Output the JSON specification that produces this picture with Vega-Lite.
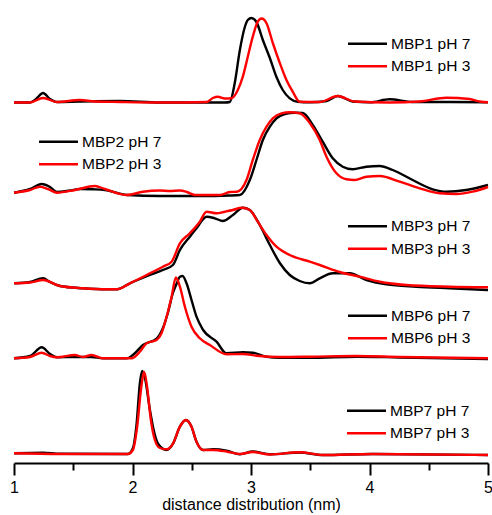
{
  "$schema": "https://vega.github.io/schema/vega-lite/v6.json",
  "width": 474,
  "height": 463,
  "autosize": {"type": "none"},
  "padding": {"left": 14, "top": 0, "right": 4, "bottom": 52},
  "background": "white",
  "config": {
    "view": {"stroke": null},
    "font": "Liberation Sans",
    "legend": {
      "title": null,
      "direction": "vertical",
      "padding": 0,
      "labelFont": "Liberation Sans",
      "labelFontSize": 15.5,
      "labelColor": "#000000",
      "labelOffset": 4,
      "rowPadding": 5.5,
      "symbolSize": 100,
      "symbolStrokeWidth": 2.5,
      "symbolType": "M-6.25,0H1.55",
      "labelLimit": 300
    }
  },
  "data": {
    "values": [
      {"p":"MBP1","s":"MBP1 pH 7","x":1.0,"y":360.5},{"p":"MBP1","s":"MBP1 pH 7","x":1.135,"y":360.5},{"p":"MBP1","s":"MBP1 pH 7","x":1.186,"y":364},{"p":"MBP1","s":"MBP1 pH 7","x":1.245,"y":370},{"p":"MBP1","s":"MBP1 pH 7","x":1.304,"y":364},{"p":"MBP1","s":"MBP1 pH 7","x":1.363,"y":361},{"p":"MBP1","s":"MBP1 pH 7","x":1.557,"y":361.5},{"p":"MBP1","s":"MBP1 pH 7","x":1.894,"y":362},{"p":"MBP1","s":"MBP1 pH 7","x":2.231,"y":360.5},{"p":"MBP1","s":"MBP1 pH 7","x":2.568,"y":360.5},{"p":"MBP1","s":"MBP1 pH 7","x":2.779,"y":360.5},{"p":"MBP1","s":"MBP1 pH 7","x":2.821,"y":361},{"p":"MBP1","s":"MBP1 pH 7","x":2.863,"y":380},{"p":"MBP1","s":"MBP1 pH 7","x":2.906,"y":413},{"p":"MBP1","s":"MBP1 pH 7","x":2.948,"y":436},{"p":"MBP1","s":"MBP1 pH 7","x":2.973,"y":443},{"p":"MBP1","s":"MBP1 pH 7","x":3.004,"y":445},{"p":"MBP1","s":"MBP1 pH 7","x":3.046,"y":441},{"p":"MBP1","s":"MBP1 pH 7","x":3.1,"y":423},{"p":"MBP1","s":"MBP1 pH 7","x":3.159,"y":405},{"p":"MBP1","s":"MBP1 pH 7","x":3.215,"y":386},{"p":"MBP1","s":"MBP1 pH 7","x":3.268,"y":373},{"p":"MBP1","s":"MBP1 pH 7","x":3.327,"y":364.7},{"p":"MBP1","s":"MBP1 pH 7","x":3.395,"y":361.3},{"p":"MBP1","s":"MBP1 pH 7","x":3.496,"y":360.7},{"p":"MBP1","s":"MBP1 pH 7","x":3.639,"y":362},{"p":"MBP1","s":"MBP1 pH 7","x":3.732,"y":367},{"p":"MBP1","s":"MBP1 pH 7","x":3.858,"y":361.5},{"p":"MBP1","s":"MBP1 pH 7","x":4.002,"y":360.7},{"p":"MBP1","s":"MBP1 pH 7","x":4.17,"y":363.7},{"p":"MBP1","s":"MBP1 pH 7","x":4.364,"y":361},{"p":"MBP1","s":"MBP1 pH 7","x":4.676,"y":361},{"p":"MBP1","s":"MBP1 pH 7","x":5.0,"y":360.7},
      {"p":"MBP1","s":"MBP1 pH 3","x":1.0,"y":360.5},{"p":"MBP1","s":"MBP1 pH 3","x":1.135,"y":360.5},{"p":"MBP1","s":"MBP1 pH 3","x":1.245,"y":365},{"p":"MBP1","s":"MBP1 pH 3","x":1.363,"y":361},{"p":"MBP1","s":"MBP1 pH 3","x":1.557,"y":363},{"p":"MBP1","s":"MBP1 pH 3","x":1.683,"y":361.5},{"p":"MBP1","s":"MBP1 pH 3","x":1.894,"y":361},{"p":"MBP1","s":"MBP1 pH 3","x":2.231,"y":360.5},{"p":"MBP1","s":"MBP1 pH 3","x":2.627,"y":361},{"p":"MBP1","s":"MBP1 pH 3","x":2.678,"y":365},{"p":"MBP1","s":"MBP1 pH 3","x":2.72,"y":366.3},{"p":"MBP1","s":"MBP1 pH 3","x":2.779,"y":364.5},{"p":"MBP1","s":"MBP1 pH 3","x":2.835,"y":364.7},{"p":"MBP1","s":"MBP1 pH 3","x":2.889,"y":373},{"p":"MBP1","s":"MBP1 pH 3","x":2.931,"y":386.3},{"p":"MBP1","s":"MBP1 pH 3","x":2.973,"y":406.3},{"p":"MBP1","s":"MBP1 pH 3","x":3.015,"y":426.3},{"p":"MBP1","s":"MBP1 pH 3","x":3.057,"y":441.3},{"p":"MBP1","s":"MBP1 pH 3","x":3.089,"y":444.5},{"p":"MBP1","s":"MBP1 pH 3","x":3.131,"y":439.7},{"p":"MBP1","s":"MBP1 pH 3","x":3.184,"y":420},{"p":"MBP1","s":"MBP1 pH 3","x":3.243,"y":400},{"p":"MBP1","s":"MBP1 pH 3","x":3.299,"y":383},{"p":"MBP1","s":"MBP1 pH 3","x":3.352,"y":371.3},{"p":"MBP1","s":"MBP1 pH 3","x":3.411,"y":361.3},{"p":"MBP1","s":"MBP1 pH 3","x":3.58,"y":361},{"p":"MBP1","s":"MBP1 pH 3","x":3.732,"y":367},{"p":"MBP1","s":"MBP1 pH 3","x":3.875,"y":361.5},{"p":"MBP1","s":"MBP1 pH 3","x":4.17,"y":360.5},{"p":"MBP1","s":"MBP1 pH 3","x":4.423,"y":361.5},{"p":"MBP1","s":"MBP1 pH 3","x":4.648,"y":365.3},{"p":"MBP1","s":"MBP1 pH 3","x":4.845,"y":364},{"p":"MBP1","s":"MBP1 pH 3","x":4.929,"y":361.5},{"p":"MBP1","s":"MBP1 pH 3","x":5.0,"y":360.7},
      {"p":"MBP2","s":"MBP2 pH 7","x":1.0,"y":270.3},{"p":"MBP2","s":"MBP2 pH 7","x":1.135,"y":274},{"p":"MBP2","s":"MBP2 pH 7","x":1.234,"y":279},{"p":"MBP2","s":"MBP2 pH 7","x":1.304,"y":276},{"p":"MBP2","s":"MBP2 pH 7","x":1.363,"y":271},{"p":"MBP2","s":"MBP2 pH 7","x":1.472,"y":272.5},{"p":"MBP2","s":"MBP2 pH 7","x":1.557,"y":274},{"p":"MBP2","s":"MBP2 pH 7","x":1.666,"y":273.7},{"p":"MBP2","s":"MBP2 pH 7","x":1.767,"y":273},{"p":"MBP2","s":"MBP2 pH 7","x":1.953,"y":268},{"p":"MBP2","s":"MBP2 pH 7","x":2.231,"y":267},{"p":"MBP2","s":"MBP2 pH 7","x":2.568,"y":267},{"p":"MBP2","s":"MBP2 pH 7","x":2.821,"y":267.5},{"p":"MBP2","s":"MBP2 pH 7","x":2.906,"y":268},{"p":"MBP2","s":"MBP2 pH 7","x":2.99,"y":283},{"p":"MBP2","s":"MBP2 pH 7","x":3.046,"y":303},{"p":"MBP2","s":"MBP2 pH 7","x":3.1,"y":323},{"p":"MBP2","s":"MBP2 pH 7","x":3.159,"y":336.3},{"p":"MBP2","s":"MBP2 pH 7","x":3.215,"y":344.7},{"p":"MBP2","s":"MBP2 pH 7","x":3.285,"y":349},{"p":"MBP2","s":"MBP2 pH 7","x":3.369,"y":350.3},{"p":"MBP2","s":"MBP2 pH 7","x":3.437,"y":350},{"p":"MBP2","s":"MBP2 pH 7","x":3.521,"y":338},{"p":"MBP2","s":"MBP2 pH 7","x":3.605,"y":321.3},{"p":"MBP2","s":"MBP2 pH 7","x":3.69,"y":304.7},{"p":"MBP2","s":"MBP2 pH 7","x":3.774,"y":296.3},{"p":"MBP2","s":"MBP2 pH 7","x":3.858,"y":293.7},{"p":"MBP2","s":"MBP2 pH 7","x":3.974,"y":296.3},{"p":"MBP2","s":"MBP2 pH 7","x":4.086,"y":297},{"p":"MBP2","s":"MBP2 pH 7","x":4.196,"y":293},{"p":"MBP2","s":"MBP2 pH 7","x":4.364,"y":283},{"p":"MBP2","s":"MBP2 pH 7","x":4.533,"y":273.7},{"p":"MBP2","s":"MBP2 pH 7","x":4.648,"y":271.3},{"p":"MBP2","s":"MBP2 pH 7","x":4.817,"y":273},{"p":"MBP2","s":"MBP2 pH 7","x":5.0,"y":278},
      {"p":"MBP2","s":"MBP2 pH 3","x":1.0,"y":270.3},{"p":"MBP2","s":"MBP2 pH 3","x":1.135,"y":273},{"p":"MBP2","s":"MBP2 pH 3","x":1.219,"y":276.3},{"p":"MBP2","s":"MBP2 pH 3","x":1.287,"y":274},{"p":"MBP2","s":"MBP2 pH 3","x":1.363,"y":270.3},{"p":"MBP2","s":"MBP2 pH 3","x":1.514,"y":273},{"p":"MBP2","s":"MBP2 pH 3","x":1.683,"y":277},{"p":"MBP2","s":"MBP2 pH 3","x":1.767,"y":274},{"p":"MBP2","s":"MBP2 pH 3","x":1.953,"y":268},{"p":"MBP2","s":"MBP2 pH 3","x":2.088,"y":271.3},{"p":"MBP2","s":"MBP2 pH 3","x":2.231,"y":272.5},{"p":"MBP2","s":"MBP2 pH 3","x":2.315,"y":272},{"p":"MBP2","s":"MBP2 pH 3","x":2.4,"y":272.5},{"p":"MBP2","s":"MBP2 pH 3","x":2.459,"y":271},{"p":"MBP2","s":"MBP2 pH 3","x":2.526,"y":268},{"p":"MBP2","s":"MBP2 pH 3","x":2.737,"y":268},{"p":"MBP2","s":"MBP2 pH 3","x":2.821,"y":271},{"p":"MBP2","s":"MBP2 pH 3","x":2.88,"y":271.3},{"p":"MBP2","s":"MBP2 pH 3","x":2.962,"y":283},{"p":"MBP2","s":"MBP2 pH 3","x":3.015,"y":303},{"p":"MBP2","s":"MBP2 pH 3","x":3.074,"y":323},{"p":"MBP2","s":"MBP2 pH 3","x":3.131,"y":336.3},{"p":"MBP2","s":"MBP2 pH 3","x":3.184,"y":344.7},{"p":"MBP2","s":"MBP2 pH 3","x":3.257,"y":349.7},{"p":"MBP2","s":"MBP2 pH 3","x":3.327,"y":350.7},{"p":"MBP2","s":"MBP2 pH 3","x":3.411,"y":349.7},{"p":"MBP2","s":"MBP2 pH 3","x":3.496,"y":340},{"p":"MBP2","s":"MBP2 pH 3","x":3.58,"y":323},{"p":"MBP2","s":"MBP2 pH 3","x":3.637,"y":306.3},{"p":"MBP2","s":"MBP2 pH 3","x":3.721,"y":289.7},{"p":"MBP2","s":"MBP2 pH 3","x":3.805,"y":283.7},{"p":"MBP2","s":"MBP2 pH 3","x":3.875,"y":283},{"p":"MBP2","s":"MBP2 pH 3","x":3.974,"y":286.3},{"p":"MBP2","s":"MBP2 pH 3","x":4.086,"y":287},{"p":"MBP2","s":"MBP2 pH 3","x":4.255,"y":281.3},{"p":"MBP2","s":"MBP2 pH 3","x":4.423,"y":274.7},{"p":"MBP2","s":"MBP2 pH 3","x":4.592,"y":269.7},{"p":"MBP2","s":"MBP2 pH 3","x":4.733,"y":269},{"p":"MBP2","s":"MBP2 pH 3","x":4.87,"y":271.3},{"p":"MBP2","s":"MBP2 pH 3","x":5.0,"y":276},
      {"p":"MBP3","s":"MBP3 pH 7","x":1.0,"y":179.7},{"p":"MBP3","s":"MBP3 pH 7","x":1.135,"y":181},{"p":"MBP3","s":"MBP3 pH 7","x":1.245,"y":184.7},{"p":"MBP3","s":"MBP3 pH 7","x":1.304,"y":181},{"p":"MBP3","s":"MBP3 pH 7","x":1.388,"y":177},{"p":"MBP3","s":"MBP3 pH 7","x":1.582,"y":174.7},{"p":"MBP3","s":"MBP3 pH 7","x":1.784,"y":173.7},{"p":"MBP3","s":"MBP3 pH 7","x":1.868,"y":173.7},{"p":"MBP3","s":"MBP3 pH 7","x":1.978,"y":179.7},{"p":"MBP3","s":"MBP3 pH 7","x":2.147,"y":188},{"p":"MBP3","s":"MBP3 pH 7","x":2.256,"y":193},{"p":"MBP3","s":"MBP3 pH 7","x":2.341,"y":198},{"p":"MBP3","s":"MBP3 pH 7","x":2.4,"y":213},{"p":"MBP3","s":"MBP3 pH 7","x":2.484,"y":226.3},{"p":"MBP3","s":"MBP3 pH 7","x":2.54,"y":234.7},{"p":"MBP3","s":"MBP3 pH 7","x":2.625,"y":246.3},{"p":"MBP3","s":"MBP3 pH 7","x":2.695,"y":244.7},{"p":"MBP3","s":"MBP3 pH 7","x":2.762,"y":242},{"p":"MBP3","s":"MBP3 pH 7","x":2.847,"y":248},{"p":"MBP3","s":"MBP3 pH 7","x":2.931,"y":255.3},{"p":"MBP3","s":"MBP3 pH 7","x":2.99,"y":253},{"p":"MBP3","s":"MBP3 pH 7","x":3.074,"y":238},{"p":"MBP3","s":"MBP3 pH 7","x":3.159,"y":218},{"p":"MBP3","s":"MBP3 pH 7","x":3.243,"y":200},{"p":"MBP3","s":"MBP3 pH 7","x":3.327,"y":188},{"p":"MBP3","s":"MBP3 pH 7","x":3.411,"y":182},{"p":"MBP3","s":"MBP3 pH 7","x":3.496,"y":179.7},{"p":"MBP3","s":"MBP3 pH 7","x":3.58,"y":184.7},{"p":"MBP3","s":"MBP3 pH 7","x":3.69,"y":189.7},{"p":"MBP3","s":"MBP3 pH 7","x":3.833,"y":189.7},{"p":"MBP3","s":"MBP3 pH 7","x":3.974,"y":183},{"p":"MBP3","s":"MBP3 pH 7","x":4.143,"y":178.7},{"p":"MBP3","s":"MBP3 pH 7","x":4.395,"y":176.3},{"p":"MBP3","s":"MBP3 pH 7","x":4.676,"y":174.7},{"p":"MBP3","s":"MBP3 pH 7","x":5.0,"y":173},
      {"p":"MBP3","s":"MBP3 pH 3","x":1.0,"y":179.7},{"p":"MBP3","s":"MBP3 pH 3","x":1.135,"y":180.5},{"p":"MBP3","s":"MBP3 pH 3","x":1.245,"y":183},{"p":"MBP3","s":"MBP3 pH 3","x":1.388,"y":177},{"p":"MBP3","s":"MBP3 pH 3","x":1.582,"y":174.7},{"p":"MBP3","s":"MBP3 pH 3","x":1.784,"y":173.7},{"p":"MBP3","s":"MBP3 pH 3","x":1.868,"y":173.7},{"p":"MBP3","s":"MBP3 pH 3","x":1.978,"y":179.7},{"p":"MBP3","s":"MBP3 pH 3","x":2.147,"y":189.7},{"p":"MBP3","s":"MBP3 pH 3","x":2.256,"y":196.3},{"p":"MBP3","s":"MBP3 pH 3","x":2.33,"y":201.3},{"p":"MBP3","s":"MBP3 pH 3","x":2.4,"y":219.7},{"p":"MBP3","s":"MBP3 pH 3","x":2.484,"y":229.7},{"p":"MBP3","s":"MBP3 pH 3","x":2.568,"y":241.3},{"p":"MBP3","s":"MBP3 pH 3","x":2.625,"y":251.3},{"p":"MBP3","s":"MBP3 pH 3","x":2.709,"y":249.7},{"p":"MBP3","s":"MBP3 pH 3","x":2.779,"y":251.3},{"p":"MBP3","s":"MBP3 pH 3","x":2.847,"y":253},{"p":"MBP3","s":"MBP3 pH 3","x":2.92,"y":255.3},{"p":"MBP3","s":"MBP3 pH 3","x":2.99,"y":253},{"p":"MBP3","s":"MBP3 pH 3","x":3.057,"y":241.3},{"p":"MBP3","s":"MBP3 pH 3","x":3.131,"y":228},{"p":"MBP3","s":"MBP3 pH 3","x":3.215,"y":216.3},{"p":"MBP3","s":"MBP3 pH 3","x":3.327,"y":208},{"p":"MBP3","s":"MBP3 pH 3","x":3.496,"y":201.3},{"p":"MBP3","s":"MBP3 pH 3","x":3.58,"y":198},{"p":"MBP3","s":"MBP3 pH 3","x":3.749,"y":191},{"p":"MBP3","s":"MBP3 pH 3","x":3.917,"y":186.3},{"p":"MBP3","s":"MBP3 pH 3","x":4.086,"y":181.3},{"p":"MBP3","s":"MBP3 pH 3","x":4.311,"y":178},{"p":"MBP3","s":"MBP3 pH 3","x":4.676,"y":176.3},{"p":"MBP3","s":"MBP3 pH 3","x":5.0,"y":175.7},
      {"p":"MBP6","s":"MBP6 pH 7","x":1.0,"y":104.7},{"p":"MBP6","s":"MBP6 pH 7","x":1.135,"y":107},{"p":"MBP6","s":"MBP6 pH 7","x":1.234,"y":115.7},{"p":"MBP6","s":"MBP6 pH 7","x":1.304,"y":109},{"p":"MBP6","s":"MBP6 pH 7","x":1.363,"y":105.7},{"p":"MBP6","s":"MBP6 pH 7","x":1.514,"y":106},{"p":"MBP6","s":"MBP6 pH 7","x":1.655,"y":106},{"p":"MBP6","s":"MBP6 pH 7","x":1.75,"y":104.7},{"p":"MBP6","s":"MBP6 pH 7","x":1.953,"y":104.7},{"p":"MBP6","s":"MBP6 pH 7","x":2.003,"y":108},{"p":"MBP6","s":"MBP6 pH 7","x":2.088,"y":118},{"p":"MBP6","s":"MBP6 pH 7","x":2.206,"y":124.7},{"p":"MBP6","s":"MBP6 pH 7","x":2.256,"y":134.7},{"p":"MBP6","s":"MBP6 pH 7","x":2.298,"y":150},{"p":"MBP6","s":"MBP6 pH 7","x":2.341,"y":170},{"p":"MBP6","s":"MBP6 pH 7","x":2.374,"y":179.7},{"p":"MBP6","s":"MBP6 pH 7","x":2.4,"y":186.3},{"p":"MBP6","s":"MBP6 pH 7","x":2.423,"y":187},{"p":"MBP6","s":"MBP6 pH 7","x":2.456,"y":179.7},{"p":"MBP6","s":"MBP6 pH 7","x":2.498,"y":163},{"p":"MBP6","s":"MBP6 pH 7","x":2.54,"y":146.3},{"p":"MBP6","s":"MBP6 pH 7","x":2.596,"y":133},{"p":"MBP6","s":"MBP6 pH 7","x":2.709,"y":121.3},{"p":"MBP6","s":"MBP6 pH 7","x":2.793,"y":109.7},{"p":"MBP6","s":"MBP6 pH 7","x":2.931,"y":110.7},{"p":"MBP6","s":"MBP6 pH 7","x":3.015,"y":110.3},{"p":"MBP6","s":"MBP6 pH 7","x":3.131,"y":106.3},{"p":"MBP6","s":"MBP6 pH 7","x":3.243,"y":105.3},{"p":"MBP6","s":"MBP6 pH 7","x":3.496,"y":105.3},{"p":"MBP6","s":"MBP6 pH 7","x":3.89,"y":106.3},{"p":"MBP6","s":"MBP6 pH 7","x":4.255,"y":105.5},{"p":"MBP6","s":"MBP6 pH 7","x":5.0,"y":104},
      {"p":"MBP6","s":"MBP6 pH 3","x":1.0,"y":104.7},{"p":"MBP6","s":"MBP6 pH 3","x":1.135,"y":106},{"p":"MBP6","s":"MBP6 pH 3","x":1.234,"y":110.3},{"p":"MBP6","s":"MBP6 pH 3","x":1.304,"y":107},{"p":"MBP6","s":"MBP6 pH 3","x":1.363,"y":105.7},{"p":"MBP6","s":"MBP6 pH 3","x":1.514,"y":108},{"p":"MBP6","s":"MBP6 pH 3","x":1.582,"y":106},{"p":"MBP6","s":"MBP6 pH 3","x":1.655,"y":108},{"p":"MBP6","s":"MBP6 pH 3","x":1.75,"y":104.7},{"p":"MBP6","s":"MBP6 pH 3","x":1.992,"y":104.7},{"p":"MBP6","s":"MBP6 pH 3","x":2.062,"y":111.3},{"p":"MBP6","s":"MBP6 pH 3","x":2.119,"y":119.7},{"p":"MBP6","s":"MBP6 pH 3","x":2.203,"y":123},{"p":"MBP6","s":"MBP6 pH 3","x":2.245,"y":129.7},{"p":"MBP6","s":"MBP6 pH 3","x":2.288,"y":146.3},{"p":"MBP6","s":"MBP6 pH 3","x":2.33,"y":166.3},{"p":"MBP6","s":"MBP6 pH 3","x":2.366,"y":185.5},{"p":"MBP6","s":"MBP6 pH 3","x":2.4,"y":176.3},{"p":"MBP6","s":"MBP6 pH 3","x":2.442,"y":156.3},{"p":"MBP6","s":"MBP6 pH 3","x":2.498,"y":136.3},{"p":"MBP6","s":"MBP6 pH 3","x":2.568,"y":124.7},{"p":"MBP6","s":"MBP6 pH 3","x":2.653,"y":118},{"p":"MBP6","s":"MBP6 pH 3","x":2.793,"y":108.7},{"p":"MBP6","s":"MBP6 pH 3","x":2.931,"y":109},{"p":"MBP6","s":"MBP6 pH 3","x":3.046,"y":107.3},{"p":"MBP6","s":"MBP6 pH 3","x":3.243,"y":106},{"p":"MBP6","s":"MBP6 pH 3","x":3.496,"y":106.3},{"p":"MBP6","s":"MBP6 pH 3","x":3.89,"y":107},{"p":"MBP6","s":"MBP6 pH 3","x":4.255,"y":106},{"p":"MBP6","s":"MBP6 pH 3","x":5.0,"y":104.7},
      {"p":"MBP7","s":"MBP7 pH 7","x":1.0,"y":9.7},{"p":"MBP7","s":"MBP7 pH 7","x":1.245,"y":10.3},{"p":"MBP7","s":"MBP7 pH 7","x":1.388,"y":9.2},{"p":"MBP7","s":"MBP7 pH 7","x":1.961,"y":9},{"p":"MBP7","s":"MBP7 pH 7","x":2.003,"y":14.7},{"p":"MBP7","s":"MBP7 pH 7","x":2.035,"y":39.7},{"p":"MBP7","s":"MBP7 pH 7","x":2.062,"y":79.7},{"p":"MBP7","s":"MBP7 pH 7","x":2.082,"y":92},{"p":"MBP7","s":"MBP7 pH 7","x":2.105,"y":85},{"p":"MBP7","s":"MBP7 pH 7","x":2.147,"y":53},{"p":"MBP7","s":"MBP7 pH 7","x":2.175,"y":35},{"p":"MBP7","s":"MBP7 pH 7","x":2.217,"y":19},{"p":"MBP7","s":"MBP7 pH 7","x":2.288,"y":13},{"p":"MBP7","s":"MBP7 pH 7","x":2.343,"y":19.7},{"p":"MBP7","s":"MBP7 pH 7","x":2.4,"y":36.3},{"p":"MBP7","s":"MBP7 pH 7","x":2.45,"y":43},{"p":"MBP7","s":"MBP7 pH 7","x":2.498,"y":36.3},{"p":"MBP7","s":"MBP7 pH 7","x":2.54,"y":21.3},{"p":"MBP7","s":"MBP7 pH 7","x":2.596,"y":13},{"p":"MBP7","s":"MBP7 pH 7","x":2.68,"y":13.7},{"p":"MBP7","s":"MBP7 pH 7","x":2.793,"y":12.3},{"p":"MBP7","s":"MBP7 pH 7","x":2.906,"y":8.7},{"p":"MBP7","s":"MBP7 pH 7","x":3.015,"y":11.5},{"p":"MBP7","s":"MBP7 pH 7","x":3.159,"y":8.7},{"p":"MBP7","s":"MBP7 pH 7","x":3.411,"y":10.5},{"p":"MBP7","s":"MBP7 pH 7","x":3.605,"y":8},{"p":"MBP7","s":"MBP7 pH 7","x":4.027,"y":9},{"p":"MBP7","s":"MBP7 pH 7","x":5.0,"y":8},
      {"p":"MBP7","s":"MBP7 pH 3","x":1.0,"y":9.7},{"p":"MBP7","s":"MBP7 pH 3","x":1.388,"y":9},{"p":"MBP7","s":"MBP7 pH 3","x":1.961,"y":9},{"p":"MBP7","s":"MBP7 pH 3","x":2.003,"y":13},{"p":"MBP7","s":"MBP7 pH 3","x":2.041,"y":38},{"p":"MBP7","s":"MBP7 pH 3","x":2.071,"y":73},{"p":"MBP7","s":"MBP7 pH 3","x":2.099,"y":91},{"p":"MBP7","s":"MBP7 pH 3","x":2.121,"y":78},{"p":"MBP7","s":"MBP7 pH 3","x":2.155,"y":43},{"p":"MBP7","s":"MBP7 pH 3","x":2.189,"y":23},{"p":"MBP7","s":"MBP7 pH 3","x":2.231,"y":15},{"p":"MBP7","s":"MBP7 pH 3","x":2.288,"y":13.7},{"p":"MBP7","s":"MBP7 pH 3","x":2.343,"y":19.7},{"p":"MBP7","s":"MBP7 pH 3","x":2.4,"y":36.3},{"p":"MBP7","s":"MBP7 pH 3","x":2.45,"y":43},{"p":"MBP7","s":"MBP7 pH 3","x":2.498,"y":36.3},{"p":"MBP7","s":"MBP7 pH 3","x":2.54,"y":21.3},{"p":"MBP7","s":"MBP7 pH 3","x":2.596,"y":13},{"p":"MBP7","s":"MBP7 pH 3","x":2.68,"y":13},{"p":"MBP7","s":"MBP7 pH 3","x":2.793,"y":11.5},{"p":"MBP7","s":"MBP7 pH 3","x":2.906,"y":9},{"p":"MBP7","s":"MBP7 pH 3","x":3.015,"y":11},{"p":"MBP7","s":"MBP7 pH 3","x":3.159,"y":8.5},{"p":"MBP7","s":"MBP7 pH 3","x":3.411,"y":10.7},{"p":"MBP7","s":"MBP7 pH 3","x":3.605,"y":8},{"p":"MBP7","s":"MBP7 pH 3","x":4.027,"y":9},{"p":"MBP7","s":"MBP7 pH 3","x":5.0,"y":8}
    ]
  },
  "encoding": {
    "x": {
      "field": "x", "type": "quantitative",
      "scale": {"domain": [1, 5], "nice": false, "zero": false},
      "axis": {
        "title": "distance distribution (nm)",
        "values": [1, 1.5, 2, 2.5, 3, 3.5, 4, 4.5, 5],
        "labelExpr": "datum.value % 1 === 0 ? format(datum.value, 'd') : ''",
        "labelFlush": false,
        "labelOverlap": false,
        "labelFont": "Liberation Sans",
        "labelFontSize": 16,
        "labelColor": "#000000",
        "labelPadding": 4,
        "titleFont": "Liberation Sans",
        "titleFontSize": 16,
        "titleFontWeight": "normal",
        "titleColor": "#000000",
        "titlePadding": 1,
        "domainColor": "#000000",
        "domainWidth": 2,
        "tickColor": "#000000",
        "tickWidth": 2,
        "tickSize": {"condition": {"test": "datum.value % 1 === 0", "value": 12}, "value": 7},
        "grid": false
      }
    },
    "y": {
      "field": "y", "type": "quantitative",
      "scale": {"domain": [0, 463], "nice": false, "zero": false},
      "axis": null
    }
  },
  "resolve": {"scale": {"color": "independent"}, "legend": {"color": "independent"}},
  "layer": [
    {
      "transform": [{"filter": "datum.p === 'MBP1'"}],
      "mark": {"type": "line", "interpolate": "monotone", "strokeWidth": 2.4},
      "encoding": {"color": {"field": "s", "type": "nominal", "scale": {"domain": ["MBP1 pH 7", "MBP1 pH 3"], "range": ["#000000", "#ff0000"]}, "legend": {"title": null, "orient": "none", "legendX": 357.5, "legendY": 36, "symbolType": "M-6.25,0H1.55"}}}
    },
    {
      "transform": [{"filter": "datum.p === 'MBP2'"}],
      "mark": {"type": "line", "interpolate": "monotone", "strokeWidth": 2.4},
      "encoding": {"color": {"field": "s", "type": "nominal", "scale": {"domain": ["MBP2 pH 7", "MBP2 pH 3"], "range": ["#000000", "#ff0000"]}, "legend": {"title": null, "orient": "none", "legendX": 48.5, "legendY": 134, "symbolType": "M-6.25,0H1.55"}}}
    },
    {
      "transform": [{"filter": "datum.p === 'MBP3'"}],
      "mark": {"type": "line", "interpolate": "monotone", "strokeWidth": 2.4},
      "encoding": {"color": {"field": "s", "type": "nominal", "scale": {"domain": ["MBP3 pH 7", "MBP3 pH 3"], "range": ["#000000", "#ff0000"]}, "legend": {"title": null, "orient": "none", "legendX": 357.5, "legendY": 218.5, "symbolType": "M-6.25,0H1.55"}}}
    },
    {
      "transform": [{"filter": "datum.p === 'MBP6'"}],
      "mark": {"type": "line", "interpolate": "monotone", "strokeWidth": 2.4},
      "encoding": {"color": {"field": "s", "type": "nominal", "scale": {"domain": ["MBP6 pH 7", "MBP6 pH 3"], "range": ["#000000", "#ff0000"]}, "legend": {"title": null, "orient": "none", "legendX": 357.5, "legendY": 308, "symbolType": "M-6.25,0H1.55"}}}
    },
    {
      "transform": [{"filter": "datum.p === 'MBP7'"}],
      "mark": {"type": "line", "interpolate": "monotone", "strokeWidth": 2.4},
      "encoding": {"color": {"field": "s", "type": "nominal", "scale": {"domain": ["MBP7 pH 7", "MBP7 pH 3"], "range": ["#000000", "#ff0000"]}, "legend": {"title": null, "orient": "none", "legendX": 356.5, "legendY": 403, "symbolType": "M-6.25,0H1.55"}}}
    }
  ]
}
